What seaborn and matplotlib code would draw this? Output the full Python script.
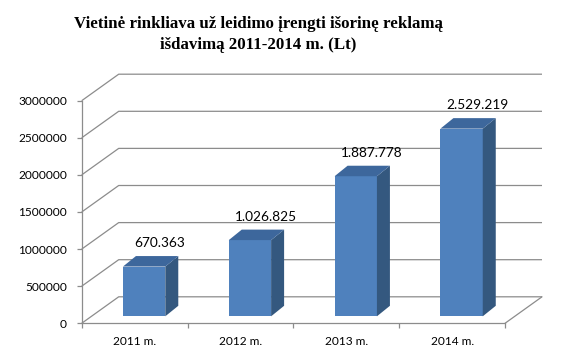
import matplotlib
matplotlib.use("Agg")
import matplotlib.pyplot as plt
import seaborn as sns
from matplotlib.patches import Polygon

years = ["2011 m.", "2012 m.", "2013 m.", "2014 m."]
values = [670363, 1026825, 1887778, 2529219]
yticks = [0, 500000, 1000000, 1500000, 2000000, 2500000, 3000000]
title = "Vietinė rinkliava už leidimo įrengti išorinę reklamą\nišdavimą 2011-2014 m. (Lt)"

FRONT = "#4f81bd"
SIDE = "#34587f"
TOP = "#3d679c"
GRID = "#8c8c8c"

sns.set_theme(style="white")
plt.rcParams["font.family"] = ["Lato", "DejaVu Sans"]

W, H = 576, 358
fig = plt.figure(figsize=(W / 100, H / 100), dpi=100)
fig.patch.set_facecolor("white")
axl, axb, axw, axh = 81.7 / W, (H - 323.3) / H, (505 - 81.7) / W, 222.6 / H
ax = fig.add_axes([axl, axb, axw, axh])

sns.barplot(x=years, y=values, color=FRONT, width=0.4, saturation=1,
            ax=ax, zorder=3, linewidth=0)
ax.set_xlim(-0.5, 3.5)
ax.set_ylim(0, 3000000)

ppx = axw * W / 4.0
ppy = axh * H / 3000000.0

def dx(px):
    return px / ppx

def dy(px):
    return px / ppy

# depth of floor / back wall
Dx, Dy = dx(37), dy(26.5)
for v in yticks:
    ax.plot([-0.5, -0.5 + Dx, 3.5 + Dx], [v, v + Dy, v + Dy], color=GRID,
            lw=0.9, clip_on=False, zorder=1, solid_capstyle="butt")
ax.plot([3.5, 3.5 + Dx], [0, Dy], color=GRID, lw=0.9, clip_on=False, zorder=1)

# 3D bars
fx, fy = dx(9.5), dy(7)
bx, by = dx(13), dy(10.5)
bars = list(ax.patches)
for p, v in zip(bars, values):
    x0 = p.get_x() + fx
    w = p.get_width()
    h = p.get_height()
    p.set_x(x0)
    p.set_y(fy)
    p.set_clip_on(False)
    side = Polygon([(x0 + w, fy), (x0 + w, fy + h), (x0 + w + bx, fy + h + by),
                    (x0 + w + bx, fy + by)], closed=True, facecolor=SIDE,
                   edgecolor="none", zorder=3, clip_on=False)
    top = Polygon([(x0, fy + h), (x0 + w, fy + h), (x0 + w + bx, fy + h + by),
                   (x0 + bx, fy + h + by)], closed=True, facecolor=TOP,
                  edgecolor="none", zorder=3, clip_on=False)
    ax.add_patch(side)
    ax.add_patch(top)
    lab = f"{v:,}".replace(",", ".")
    ax.text(x0 + w / 2 + dx(16), fy + h + by + dy(13), lab, ha="center",
            va="center", fontsize=9.8, color="black", zorder=5)

# axes styling
for s in ["top", "right"]:
    ax.spines[s].set_visible(False)
for s in ["left", "bottom"]:
    ax.spines[s].set_color(GRID)
    ax.spines[s].set_linewidth(0.9)
ax.set_yticks(yticks)
ax.set_yticklabels([str(t) for t in yticks])
ax.set_xticks(range(len(years)))
ax.set_xticklabels(years)
ax.set_xticks([-0.5, 0.5, 1.5, 2.5, 3.5], minor=True)
ax.tick_params(axis="y", which="major", left=True, length=3.5, width=0.9,
               color=GRID, pad=7, labelsize=8.6, labelcolor="black")
ax.tick_params(axis="x", which="major", bottom=False, length=0, pad=9,
               labelsize=8.6, labelcolor="black")
ax.tick_params(axis="x", which="minor", bottom=True, length=3.5, width=0.9,
               color=GRID)
ax.set_xlabel("")
ax.set_ylabel("")
ax.patch.set_alpha(0)
ax.grid(False)

fig.text(258 / W, 1 - 34.5 / H, title, ha="center", va="center",
         fontsize=12.2, fontweight="bold", family="Liberation Serif",
         linespacing=1.35, color="black")

fig.savefig("out.png", dpi=100, facecolor="white")
